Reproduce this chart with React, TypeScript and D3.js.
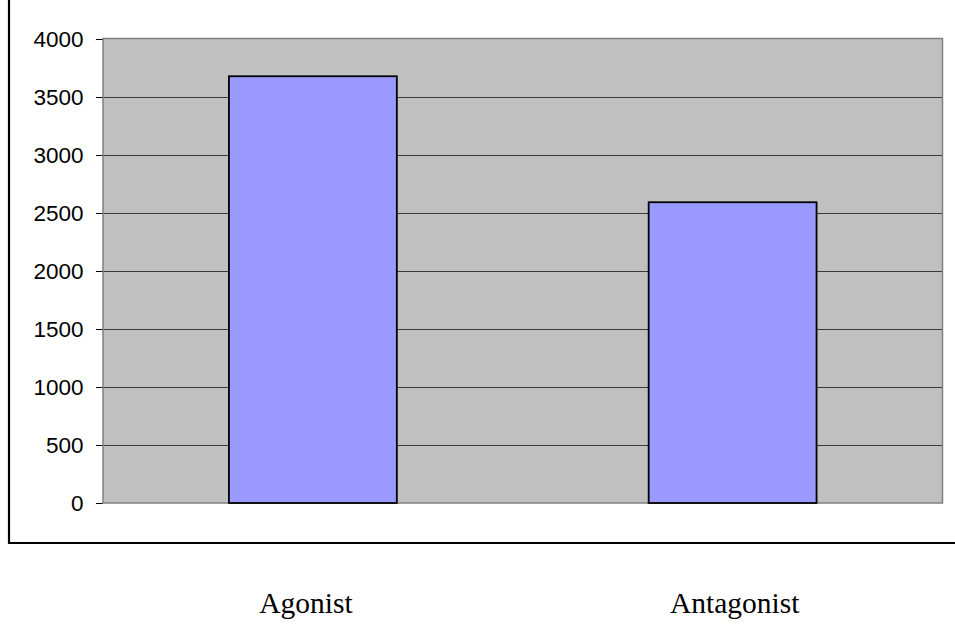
import React from "react";
import * as d3 from "d3";

const categories = ["Agonist", "Antagonist"];
const values = [3675, 2590];
const yTicks = [0, 500, 1000, 1500, 2000, 2500, 3000, 3500, 4000];

const W = 955;
const H = 626;
const plot = { left: 103, right: 942.5, top: 38.5, bottom: 503 };

export default function App() {
  const x = d3
    .scaleBand<string>()
    .domain(categories)
    .range([plot.left, plot.right])
    .paddingInner(0.6)
    .paddingOuter(0.3);
  const y = d3.scaleLinear().domain([0, 4000]).range([plot.bottom, plot.top]);

  return (
    <svg
      width={W}
      height={H}
      style={{ position: "absolute", left: 0, top: 0, background: "#fff" }}
    >
      {/* outer chart frame (top and right edges fall outside the view) */}
      <path d={`M9,-2 V543 H${W + 2}`} fill="none" stroke="#000" strokeWidth={2.2} />

      {/* plot area */}
      <rect
        x={plot.left}
        y={plot.top}
        width={plot.right - plot.left}
        height={plot.bottom - plot.top}
        fill="#c0c0c0"
      />
      {yTicks.map((t) => (
        <g key={t}>
          {t > 0 && t < 4000 && (
            <line
              x1={plot.left}
              x2={plot.right}
              y1={Math.round(y(t)) + 0.5}
              y2={Math.round(y(t)) + 0.5}
              stroke="#3a3a3a"
              strokeWidth={1}
            />
          )}
          <line
            x1={96}
            x2={plot.left}
            y1={Math.round(y(t)) + 0.5}
            y2={Math.round(y(t)) + 0.5}
            stroke="#000"
            strokeWidth={1}
          />
          <text
            x={83.5}
            y={y(t)}
            dy="0.36em"
            textAnchor="end"
            fontFamily="Liberation Sans, Arial, sans-serif"
            fontSize={22.5}
            fill="#000"
          >
            {t}
          </text>
        </g>
      ))}
      <rect
        x={plot.left}
        y={plot.top}
        width={plot.right - plot.left}
        height={plot.bottom - plot.top}
        fill="none"
        stroke="#808080"
        strokeWidth={1.5}
      />

      {/* bars */}
      {categories.map((c, i) => (
        <rect
          key={c}
          x={x(c)!}
          y={y(values[i])}
          width={x.bandwidth()}
          height={y(0) - y(values[i])}
          fill="#9999ff"
          stroke="#000"
          strokeWidth={1.8}
        />
      ))}

      {/* category labels below the frame */}
      {categories.map((c) => (
        <text
          key={c}
          x={x(c)! + x.bandwidth() / 2 - (c === "Agonist" ? 7 : -2)}
          y={613}
          textAnchor="middle"
          fontFamily="Liberation Serif, Times New Roman, serif"
          fontSize={29.5}
          fill="#000"
        >
          {c}
        </text>
      ))}
    </svg>
  );
}
